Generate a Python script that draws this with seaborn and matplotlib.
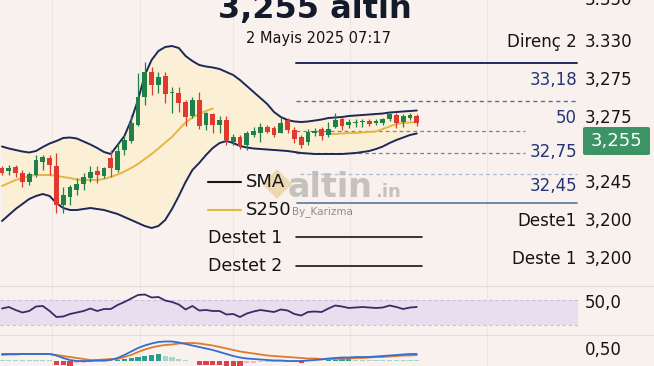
import numpy as np
import matplotlib
matplotlib.use("Agg")
import matplotlib.pyplot as plt
import seaborn as sns
from matplotlib.patches import FancyBboxPatch
from matplotlib.lines import Line2D

# ---------------- data ----------------
opens = [132, 129.3, 132.7, 127.3, 118.3, 125, 138.3, 141.7, 134, 95,
         103.3, 110, 116, 121.7, 129.3, 124, 141.7, 130, 150, 159.3,
         175, 203.3, 228.3, 215, 224, 206.7, 206.7, 198.3, 184, 200,
         175, 186, 175, 180, 158.3, 162.7, 155, 165, 167.3, 172.7,
         171.7, 167.3, 180, 170, 162.7, 158.3, 166.7, 170.7, 165, 173.3,
         180.7, 175, 177, 177.7, 179.3, 177, 177, 180.7, 185, 178.3,
         181.7, 184]
closes = [127, 132.3, 127.3, 118.3, 126, 140, 142.7, 135, 95, 105,
          113.3, 116, 123.3, 128.3, 125, 131.7, 131.7, 149, 160, 176.7,
          202.7, 227.7, 215, 223.3, 206, 208.3, 196.7, 183.3, 200, 174,
          187.3, 175, 180, 160, 163.3, 154, 167.3, 169, 173.3, 168.3,
          165, 177.3, 170, 160.7, 155, 168.3, 169.3, 164, 170.7, 180,
          174, 178, 178.3, 179.3, 175.7, 179.3, 180.7, 186, 176.7, 184,
          185, 177.3]
highs = [134, 135, 135, 130, 128.3, 145, 145, 145, 146.7, 113.3,
         115, 121.7, 127.3, 134, 134, 133.3, 150, 156.7, 165, 185,
         226.7, 238.3, 233.3, 228.3, 228.3, 213.3, 213.3, 200, 202.7, 208.3,
         188.3, 187.3, 184, 184, 166, 165, 169.3, 173.3, 176.7, 175,
         174, 183.3, 181.7, 173.3, 165, 170.7, 172, 173, 178.3, 187.3,
         183, 181, 181, 181, 181, 181, 182, 187, 186.7, 186,
         187, 186]
lows = [125, 125, 123.3, 113.3, 115, 123.3, 130, 125, 86.7, 86.7,
        95, 105, 110, 118.3, 116.7, 121.7, 123.3, 128.3, 145, 156.7,
        174, 195, 205, 206.7, 196.7, 187.3, 188.3, 174, 181.7, 170.7,
        170, 167.3, 167.3, 155, 155, 150.7, 150, 162.7, 158.3, 167,
        163.3, 166.7, 166.7, 156.7, 151.7, 155, 164, 160, 163.3, 172,
        170, 172, 173, 173, 174, 175, 175, 179, 172, 173,
        180, 174]
upper_band = [153.5, 151.5, 150, 148.5, 147.5, 149, 153, 156.5, 159, 162,
              162.5, 161.5, 158.5, 155.5, 152, 148, 146, 155, 164, 180,
              200, 225, 240, 249, 253, 254, 252, 244, 239, 235,
              233.5, 232.5, 231, 228, 225, 220, 214, 208, 202, 196,
              188, 183, 180, 178.5, 178, 178.5, 179.5, 180.5, 182, 182.5,
              183, 184, 184.5, 185, 185.5, 186, 186.5, 187.5, 188, 188.5,
              189, 189.5]
lower_band = [79, 85, 91, 96, 101, 104, 106, 104, 97, 92,
              90, 90, 91, 92, 91, 90, 88, 86, 83, 80,
              77, 74, 72, 74, 80, 91, 104, 118, 130, 137,
              145, 152, 157, 159, 157, 154, 152.5, 151.5, 151, 150.5,
              150, 149.5, 149, 148, 147, 146.5, 146, 146, 146, 146,
              146, 146.5, 147, 148, 149, 151, 153.5, 157, 160, 162.5,
              165, 166.5]
nan = np.nan
sma250 = [114, 117, 120, 122, 124, 125, 125, 125, 124, 123,
          122, 120.5, 120, 120, 120, 121, 123, 125.5, 128.5, 132,
          136, 141, 146, 151.5, 157.5, 163, 170.5, 177.5, 182.5, 186,
          189, 191.5, nan, nan, nan, nan, nan, nan, nan, nan,
          nan, nan, nan, nan, nan, nan, nan, nan, 166, 166,
          166.5, 167, 167, 167.5, 168, 168.5, 171, 173.5, 176, 177,
          177.5, 178]
rsi = [56.4, 58.8, 54.0, 50.0, 52.4, 59.6, 60.4, 52.4, 42.8, 43.6,
       47.6, 50.0, 52.4, 56.4, 52.4, 55.6, 55.6, 62.0, 66.8, 72.4,
       78.0, 78.8, 74.0, 74.8, 69.2, 66.8, 62.8, 54.8, 60.4, 53.2,
       54.0, 52.4, 52.4, 46.8, 47.6, 42.8, 48.4, 51.6, 54.0, 52.4,
       50.8, 54.8, 53.2, 47.6, 45.2, 50.8, 51.6, 50.8, 56.4, 61.2,
       59.6, 57.2, 58.0, 58.8, 58.0, 57.2, 58.0, 61.2, 58.8, 55.6,
       58.0, 58.8]
macd_line = [0.35, 0.35, 0.35, 0.35, 0.35, 0.35, 0.35, 0.35, 0.275, 0.15,
             0.05, 0, 0, 0, 0.025, 0.025, 0.05, 0.15, 0.30, 0.475,
             0.65, 0.775, 0.875, 0.95, 0.975, 0.975, 0.925, 0.85, 0.775, 0.70,
             0.625, 0.55, 0.45, 0.35, 0.25, 0.175, 0.125, 0.10, 0.075, 0.05,
             0.025, 0.025, 0, 0, 0, 0.025, 0.05, 0.075, 0.125, 0.15,
             0.175, 0.175, 0.20, 0.20, 0.20, 0.225, 0.25, 0.275, 0.30, 0.325,
             0.35, 0.35]
signal_line = [0.30, 0.325, 0.325, 0.35, 0.35, 0.35, 0.35, 0.35, 0.30, 0.25,
               0.20, 0.15, 0.10, 0.05, 0.05, 0.075, 0.10, 0.10, 0.20, 0.30,
               0.45, 0.575, 0.675, 0.75, 0.80, 0.825, 0.875, 0.90, 0.90, 0.875,
               0.825, 0.775, 0.70, 0.625, 0.55, 0.475, 0.425, 0.375, 0.325, 0.275,
               0.25, 0.225, 0.20, 0.175, 0.15, 0.125, 0.125, 0.10, 0.10, 0.10,
               0.125, 0.125, 0.15, 0.15, 0.175, 0.20, 0.20, 0.225, 0.25, 0.275,
               0.275, 0.30]
macd_hist = [0.04, 0.04, 0.04, 0.04, 0.04, 0.04, 0.04, 0.04, -0.20, -0.22,
             -0.24, -0.10, -0.09, -0.07, -0.06, -0.05, 0.025, 0.075, 0.125, 0.175,
             0.225, 0.275, 0.325, 0.35, 0.25, 0.20, 0.125, 0.05, 0.025, -0.18,
             -0.20, -0.21, -0.22, -0.23, -0.24, -0.25, -0.10, -0.08, -0.06, -0.05,
             -0.045, -0.04, -0.035, -0.07, -0.075, 0.025, 0.025, 0.025, 0.04, 0.075,
             0.08, 0.085, 0.04, 0.04, 0.04, 0.04, 0.04, 0.04, 0.04, 0.04,
             0.04, 0.04]

level_values = [237, 199, 169, 147, 126, 97, 63, 34]
right_labels = ["3.350", "3.330", "3,275", "3,275", "3,245", "3,200", "3,200"]
mid_labels = ["Direnç 2", "33,18", "50", "32,75", "32,45", "Deste1", "Deste 1"]
legend_labels = ["SMA", "S250", "Destet 1", "Destet 2"]
title = "3,255 altin"
subtitle = "2 Mayis 2025 07:17"
last_price = "3,255"
rsi_label = "50,0"
macd_label = "0,50"

# ---------------- figure ----------------
sns.set_style("white")
plt.rcParams['font.family'] = ['DejaVu Sans']

W, H = 654, 366
BG = '#F8F1EE'
fig = plt.figure(figsize=(W / 100, H / 100), dpi=100)
fig.patch.set_facecolor(BG)


def fx(px):
    return px / W


def fy(py):
    return 1 - py / H


XMIN, XMAX = -2 / 6.8, (W - 2) / 6.8

ax = fig.add_axes([0, fy(287), 1, 287 / H])
ax_rsi = fig.add_axes([0, fy(335), 1, 48 / H])
ax_macd = fig.add_axes([0, 0, 1, 31 / H])

GREEN = '#1F8049'
RED = '#E0392D'
NAVY = '#1E2858'
YELLOW = '#E4B83E'
GRID = '#EEE5E0'

idx = np.arange(len(opens))
o = np.array(opens, float)
c = np.array(closes, float)

for a in (ax, ax_rsi, ax_macd):
    for gx in (52, 140, 233, 350, 487):
        a.axvline((gx - 2) / 6.8, color=GRID, lw=0.8, zorder=0)

# Bollinger fill and bands
ax.fill_between(idx, lower_band, upper_band, color='#FBEFD6', lw=0, zorder=1)
sns.lineplot(x=idx, y=upper_band, ax=ax, color=NAVY, linewidth=1.4,
             estimator=None, zorder=3)
sns.lineplot(x=idx, y=lower_band, ax=ax, color=NAVY, linewidth=1.4,
             estimator=None, zorder=3)
sma = np.array(sma250, float)
valid = ~np.isnan(sma)
for seg in (valid & (idx < 40), valid & (idx >= 40)):
    sns.lineplot(x=idx[seg], y=sma[seg], ax=ax, color=YELLOW, linewidth=1.4,
                 estimator=None, zorder=3)

# levels
level_styles = [
    (296, 577, '#1F2B63', '-', 1.4),
    (296, 577, '#4E6FAE', (0, (3, 2.5)), 1.0),
    (296, 525, '#6A86B8', (0, (3, 2.5)), 0.9),
    (296, 525, '#6A86B8', (0, (3, 2.5)), 0.9),
    (300, 577, '#A9BED3', (0, (3, 2.5)), 0.9),
    (297, 577, '#6580AA', '-', 1.3),
    (296, 422, '#161616', '-', 1.2),
    (296, 422, '#161616', '-', 1.2),
]
for v, (x0, x1, col, ls, lw) in zip(level_values, level_styles):
    ax.axhline(v, xmin=fx(x0), xmax=fx(x1), color=col, ls=ls, lw=lw, zorder=2)

# candles
cols = np.where(c >= o, GREEN, RED)
ax.vlines(idx, lows, highs, colors=cols, lw=0.9, zorder=4)
body = np.maximum(np.abs(c - o), 1.3)
ax.bar(idx, body, bottom=np.minimum(o, c), width=0.68, color=cols, lw=0, zorder=5)
ax.set_ylim(13, 300)

# RSI panel
ax_rsi.axhspan(30, 70, xmin=0, xmax=fx(578), color='#E8DEF0', lw=0, zorder=1)
for lv in (70, 30):
    ax_rsi.axhline(lv, xmin=0, xmax=fx(578), color='#CDBDDC', ls=(0, (3, 2.5)),
                   lw=0.8, zorder=2)
sns.lineplot(x=idx, y=rsi, ax=ax_rsi, color='#3B2A66', linewidth=1.3,
             estimator=None, zorder=3)
ax_rsi.set_ylim(14, 90.8)

# MACD panel
hist = np.array(macd_hist, float)
prev = np.concatenate([[hist[0]], hist[:-1]])
hcols = np.where(hist >= 0,
                 np.where(hist > prev, '#2A9D8F', '#A9D6CB'),
                 np.where(hist <= prev, '#E0404A', '#F2B6C6'))
ax_macd.bar(idx, hist, width=0.75, color=hcols, lw=0, zorder=2)
sns.lineplot(x=idx, y=signal_line, ax=ax_macd, color='#E07B2A', linewidth=1.3,
             estimator=None, zorder=3)
sns.lineplot(x=idx, y=macd_line, ax=ax_macd, color='#2F6FD6', linewidth=1.3,
             estimator=None, zorder=4)
ax_macd.set_ylim(-0.25, 1.3)

for a in (ax, ax_rsi, ax_macd):
    a.set_xlim(XMIN, XMAX)
    a.axis('off')

# separators
for sy in (286, 335):
    fig.add_artist(Line2D([0, 1], [fy(sy)] * 2, color='#E5DCD7', lw=0.8))

# title
TXT = '#141414'
fig.text(fx(315), fy(18), title, ha='center', va='baseline', fontsize=23,
         weight='bold', color='#121A2B')
fig.text(fx(318), fy(38), subtitle, ha='center', va='center', fontsize=10.5,
         color=TXT)

# right axis labels
for lab, yy in zip(right_labels, [0, 42, 80, 118, 183, 221, 259]):
    fig.text(fx(585), fy(yy), lab, ha='left', va='center', fontsize=12, color=TXT)
fig.text(fx(585), fy(303), rsi_label, ha='left', va='center', fontsize=12, color=TXT)
fig.text(fx(585), fy(350), macd_label, ha='left', va='center', fontsize=12, color=TXT)

# mid labels
mid_cols = [TXT, '#243576', '#243576', '#243576', '#243576', TXT, TXT]
for lab, yy, col in zip(mid_labels, [42, 80, 118, 152, 186, 221, 259], mid_cols):
    fig.text(fx(577), fy(yy), lab, ha='right', va='center', fontsize=12, color=col)

# last price box
box = FancyBboxPatch((fx(583), fy(155)), fx(650) - fx(583), 28 / H,
                     boxstyle='round,pad=0,rounding_size=0.004',
                     transform=fig.transFigure, fc='#3C9466', ec='none')
fig.add_artist(box)
fig.text(fx(616.5), fy(141), last_price, ha='center', va='center', fontsize=13,
         color='white')

# watermark (logo drawn as a marker, not text)
fig.add_artist(Line2D([fx(277)], [fy(184)], marker='D', markersize=15,
                      color='#E4C27E', alpha=0.55, lw=0, markeredgewidth=0))
fig.text(fx(288), fy(197), 'altin', ha='left', va='baseline', fontsize=24,
         weight='bold', color='#BEB9B5', alpha=0.85)
fig.text(fx(375), fy(197), '.in', ha='left', va='baseline', fontsize=13,
         weight='bold', color='#BEB9B5', alpha=0.85)
fig.text(fx(292), fy(212), 'By_Karizma', ha='left', va='center', fontsize=7.5,
         color='#8E8E8E')

# legend
fig.add_artist(Line2D([fx(208), fx(241)], [fy(182)] * 2, color='#151515', lw=1.5))
fig.add_artist(Line2D([fx(208), fx(241)], [fy(210)] * 2, color=YELLOW, lw=1.5))
fig.text(fx(246), fy(182), legend_labels[0], ha='left', va='center', fontsize=13, color=TXT)
fig.text(fx(246), fy(210), legend_labels[1], ha='left', va='center', fontsize=13, color=TXT)
fig.text(fx(208), fy(238), legend_labels[2], ha='left', va='center', fontsize=12.5, color=TXT)
fig.text(fx(208), fy(266), legend_labels[3], ha='left', va='center', fontsize=12.5, color=TXT)

fig.savefig('out.png', dpi=100, facecolor=BG)
